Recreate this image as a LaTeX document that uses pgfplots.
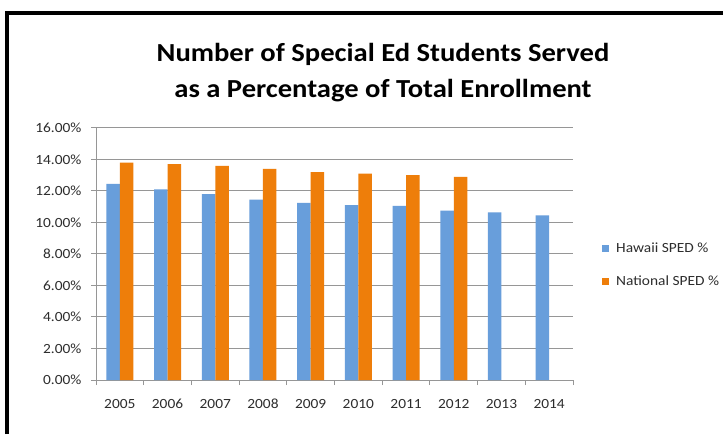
\documentclass[border=0pt]{standalone}
\usepackage{fontspec}
\setmainfont{Carlito}[FakeStretch=1.1]
\usepackage{pgfplots}
\pgfplotsset{compat=1.18}
\definecolor{hblue}{RGB}{104,158,219}
\definecolor{norange}{RGB}{238,126,10}
\definecolor{gridgray}{RGB}{150,150,150}
\definecolor{labgray}{RGB}{45,45,45}
\begin{document}
\begin{tikzpicture}
\useasboundingbox (0,0) rectangle (723pt,434pt);
\fill[white] (0,0) rectangle (723pt,434pt);
\draw[line width=4pt] (7pt,0pt) |- (723pt,421pt);
\node[font=\fontsize{26}{36}\selectfont\bfseries, align=center, text=black] at (383pt,361.5pt)
  {Number of Special Ed Students Served\\as a Percentage of Total Enrollment};
\begin{axis}[
  at={(96pt,54pt)}, anchor=south west,
  scale only axis, width=477pt, height=252pt,
  ybar=0pt, bar width=13.5pt,
  xmin=-0.5, xmax=9.5, ymin=0, ymax=16,
  xtick={0,1,2,3,4,5,6,7,8,9},
  xticklabels={2005,2006,2007,2008,2009,2010,2011,2012,2013,2014},
  major x tick style={draw=none},
  minor xtick={-0.5,0.5,1.5,2.5,3.5,4.5,5.5,6.5,7.5,8.5,9.5},
  ytick={0,2,4,6,8,10,12,14,16},
  yticklabels={0.00\%,2.00\%,4.00\%,6.00\%,8.00\%,10.00\%,12.00\%,14.00\%,16.00\%},
  axis x line*=bottom, axis y line*=left,
  axis line style={gridgray, line width=1pt},
  ymajorgrids, grid style={gridgray, line width=1pt},
  tick style={gridgray, line width=1pt},
  tick align=outside, major tick length=5pt, minor tick length=5pt,
  tick label style={font=\fontsize{14}{16}\selectfont, text=labgray},
  xticklabel style={anchor=north, text height=10pt, text depth=0pt, yshift=-10pt},
  yticklabel style={xshift=-6pt},
  legend style={draw=none, fill=none, at={(1,0.456)}, anchor=west, xshift=29pt,
    font=\fontsize{14}{16}\selectfont, text=labgray, row sep=18pt, inner sep=0pt},
  legend cell align=left,
]
\addplot[fill=hblue, draw=none,
  legend image code/.code={\fill[hblue] (0pt,-3.5pt) rectangle (7pt,3.5pt); \path (12pt,0pt);}]
  coordinates {(0,12.45) (1,12.1) (2,11.8) (3,11.45) (4,11.25) (5,11.1) (6,11.05) (7,10.75) (8,10.65) (9,10.45)};
\addplot[fill=norange, draw=none,
  legend image code/.code={\fill[norange] (0pt,-3.5pt) rectangle (7pt,3.5pt); \path (12pt,0pt);}]
  coordinates {(0,13.8) (1,13.7) (2,13.6) (3,13.4) (4,13.2) (5,13.1) (6,13.0) (7,12.9)};
\legend{Hawaii SPED \%, National SPED \%}
\end{axis}
\end{tikzpicture}
\end{document}
